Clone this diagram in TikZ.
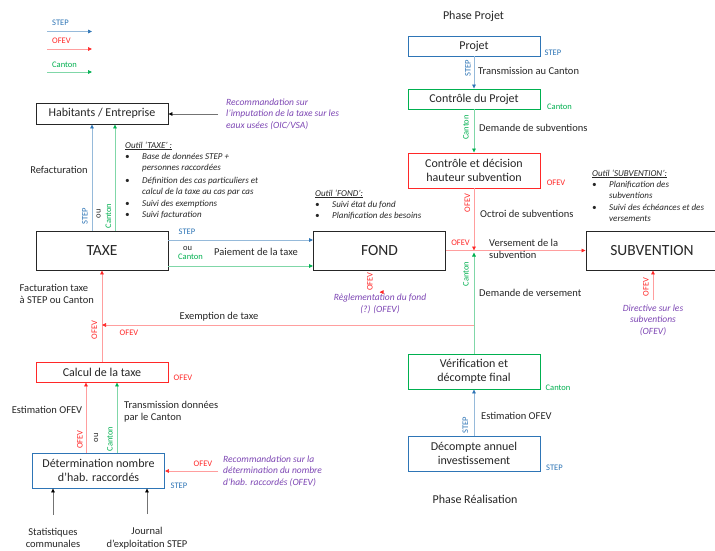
\documentclass[tikz,border=0pt]{standalone}
\usepackage{fontspec}
\setmainfont{Carlito}
\usetikzlibrary{arrows.meta, positioning, calc}

\definecolor{stepblue}{RGB}{46,117,182}
\definecolor{ofevred}{RGB}{255,40,40}
\definecolor{cantongreen}{RGB}{0,176,80}
\definecolor{recopurple}{RGB}{125,70,180}
\definecolor{textgray}{RGB}{38,38,38}

\tikzset{
  box/.style={rectangle, draw=black!85, line width=0.9pt, minimum width=132pt, inner sep=1pt, align=center, text=textgray, font=\fontsize{12}{14}\selectfont},
  box_big/.style={box, minimum height=39pt, font=\fontsize{15.5}{18}\selectfont},
  box_step/.style={box, draw=stepblue},
  box_ofev/.style={box, draw=ofevred},
  box_canton/.style={box, draw=cantongreen},
  tag_step/.style={text=stepblue, inner sep=0pt, font=\fontsize{8.5}{10}\selectfont},
  tag_ofev/.style={text=ofevred, inner sep=0pt, font=\fontsize{8.5}{10}\selectfont},
  tag_canton/.style={text=cantongreen, inner sep=0pt, font=\fontsize{8.5}{10}\selectfont},
  tag_ou/.style={text=textgray, inner sep=0pt, font=\fontsize{8.5}{10}\selectfont},
  label_text/.style={text=textgray, inner sep=0pt, align=left, font=\fontsize{10.5}{12.5}\selectfont},
  phase_title/.style={text=textgray, inner sep=0pt, font=\fontsize{12}{14}\selectfont},
  reco_text/.style={text=recopurple, inner sep=0pt, font=\fontsize{9.5}{11.5}\selectfont\itshape},
  tool_list/.style={text=textgray, inner sep=0pt, font=\fontsize{9}{11}\selectfont\itshape},
  arrow_step/.style={-{Triangle[length=4pt, width=3.6pt, color=stepblue]}, draw=stepblue!50, line width=0.7pt},
  arrow_ofev/.style={-{Triangle[length=4pt, width=3.6pt, color=ofevred]}, draw=ofevred!45, line width=0.7pt},
  arrow_canton/.style={-{Triangle[length=4pt, width=3.6pt, color=cantongreen]}, draw=cantongreen!50, line width=0.7pt},
  arrow_black/.style={-{Triangle[length=4pt, width=3.6pt, color=black]}, draw=black!55, line width=0.7pt}
}

\begin{document}
\begin{tikzpicture}[x=1pt, y=-1pt]
  \useasboundingbox[fill=white] (0,0) rectangle (715,551);

  % Legend
  \foreach \tag/\kind/\ty/\ay in {STEP/step/23/31.5, OFEV/ofev/41/49, Canton/canton/65/72} {
    \node[tag_\kind, anchor=west] (legend_\kind) at (52,\ty) {\tag};
    \coordinate (legend_\kind_from) at (47,\ay);
    \coordinate (legend_\kind_to) at (92,\ay);
    \draw[arrow_\kind] (legend_\kind_from) -- (legend_\kind_to);
  }

  % Left part: taxe
  \node[box, minimum height=21pt] (habitants) at (102,113.5) {Habitants / Entreprise};
  \node[box_big] (taxe) at (102,250.5) {TAXE};
  \node[box_ofev, minimum height=20pt] (calcul) at (102,372) {Calcul de la taxe};
  \node[box_step, minimum height=35pt] (determination) at (98.5,470.5) {Détermination nombre\\d'hab. raccordés};
  \node[label_text, align=center] (stats) at (53,538) {Statistiques\\communales};
  \node[label_text, align=center] (journal) at (147,538) {Journal\\d'exploitation STEP};

  \node[reco_text, anchor=west, align=left] (reco_hab) at (226,114) {Recommandation sur\\l'imputation de la taxe sur les\\eaux usées (OIC/VSA)};
  \draw[arrow_black] ([xshift=-8pt]reco_hab.west) -- (reco_hab.west -| habitants.east);

  \node[tool_list, anchor=base west] (outil_taxe) at (125,148) {%
    \begin{tabular}[t]{@{}p{17pt}@{}l@{}}
      \multicolumn{2}{@{}l@{}}{\underline{Outil `TAXE' :}}\\
      \textbullet & Base de données STEP +\\
                  & personnes raccordées\\[2.5pt]
      \textbullet & Définition des cas particuliers et\\
                  & calcul de la taxe au cas par cas\\[1pt]
      \textbullet & Suivi des exemptions\\
      \textbullet & Suivi facturation
    \end{tabular}};

  \coordinate (refact_step) at ([xshift=-10pt]taxe.north);
  \coordinate (refact_canton) at ([xshift=13pt]taxe.north);
  \draw[arrow_step] (refact_step) -- (refact_step |- habitants.south);
  \draw[arrow_canton] (refact_canton) -- (refact_canton |- habitants.south);
  \node[label_text] (refacturation) at (59,170) {Refacturation};
  \node[tag_step, rotate=90] (tag_refact_step) at (85,216) {STEP};
  \node[tag_ou, rotate=90] (tag_refact_ou) at (98.5,214) {ou};
  \node[tag_canton, rotate=90] (tag_refact_canton) at (108.5,216) {Canton};

  \draw[arrow_ofev] (calcul.north) -- (taxe.south);
  \node[label_text, anchor=west] (facturation) at (19.5,294) {Facturation taxe\\à STEP ou Canton};
  \node[tag_ofev, rotate=90] (tag_factu) at (94.5,330) {OFEV};
  \node[tag_ofev] (tag_calcul) at (183,378) {OFEV};

  \coordinate (det_ofev) at ([xshift=-12.5pt]determination.north);
  \coordinate (det_canton) at ([xshift=18.5pt]determination.north);
  \draw[arrow_ofev] (det_ofev) -- (det_ofev |- calcul.south);
  \draw[arrow_canton] (det_canton) -- (det_canton |- calcul.south);
  \node[label_text] (estimation_det) at (47,410) {Estimation OFEV};
  \node[label_text, anchor=west] (transmission_det) at (124,411.5) {Transmission données\\par le Canton};
  \node[tag_ofev, rotate=90] (tag_det_ofev) at (80,439.5) {OFEV};
  \node[tag_ou, rotate=90] (tag_det_ou) at (96,438) {ou};
  \node[tag_canton, rotate=90] (tag_det_canton) at (110,439) {Canton};
  \node[tag_step] (tag_det) at (179,486) {STEP};

  \node[reco_text, anchor=west, align=left] (reco_det) at (223,471) {Recommandation sur la\\détermination du nombre\\d'hab. raccordés (OFEV)};
  \draw[arrow_ofev] ([xshift=-5pt]reco_det.west) -- (reco_det.west -| determination.east);
  \node[tag_ofev] (tag_reco_det) at (203,464) {OFEV};

  \coordinate (stats_top) at ([yshift=13pt]stats.north);
  \coordinate (journal_top) at ([yshift=13pt]journal.north);
  \draw[arrow_black] (stats_top) -- (stats_top |- determination.south);
  \draw[arrow_black] (journal_top) -- (journal_top |- determination.south);

  % Middle part: fond
  \node[box_big] (fond) at (379.5,250.5) {FOND};
  \node[tool_list, anchor=base west] (outil_fond) at (315,196) {%
    \begin{tabular}[t]{@{}p{17pt}@{}l@{}}
      \multicolumn{2}{@{}l@{}}{\underline{Outil `FOND':}}\\
      \textbullet & Suivi état du fond\\
      \textbullet & Planification des besoins
    \end{tabular}};

  \coordinate (pay_step) at ([yshift=10.5pt]taxe.east);
  \coordinate (pay_canton) at ([yshift=-15.5pt]taxe.east);
  \draw[arrow_step] (pay_step) -- (pay_step -| fond.west);
  \draw[arrow_canton] (pay_canton) -- (pay_canton -| fond.west);
  \node[tag_step] (tag_pay_step) at (187,232) {STEP};
  \node[tag_ou] (tag_pay_ou) at (187.5,248) {ou};
  \node[tag_canton] (tag_pay_canton) at (190.5,257) {Canton};
  \node[label_text] (paiement) at (256,252) {Paiement de la taxe};

  \node[reco_text, align=center] (reco_fond) at (380,304) {Règlementation du fond\\(?) (OFEV)};
  \coordinate (reco_fond_top) at ([yshift=2pt]reco_fond.north);
  \draw[arrow_ofev] (reco_fond_top) -- (reco_fond_top -| fond.south);
  \node[tag_ofev, rotate=90] (tag_reco_fond) at (370,281.5) {OFEV};

  % Right part: subvention
  \node[phase_title] (phase_projet) at (473.5,16) {Phase Projet};
  \node[box_step, minimum height=20pt] (projet) at (474,46) {Projet};
  \node[box_canton, minimum height=20pt] (controle) at (474,99) {Contrôle du Projet};
  \node[box_ofev, minimum height=35pt] (decision) at (474,170.5) {Contrôle et décision\\hauteur subvention};
  \node[box_big] (subvention) at (652,250.5) {SUBVENTION};
  \node[box_canton, minimum height=35pt] (verification) at (474,371.5) {Vérification et\\décompte final};
  \node[box_step, minimum height=35pt] (decompte) at (474,453.5) {Décompte annuel\\investissement};
  \node[phase_title] (phase_realisation) at (475,499) {Phase Réalisation};

  \node[tag_step] (tag_projet) at (553,53) {STEP};
  \node[tag_canton] (tag_controle) at (559.5,107) {Canton};
  \node[tag_ofev] (tag_decision) at (556,183) {OFEV};
  \node[tag_canton] (tag_verification) at (558,388) {Canton};
  \node[tag_step] (tag_decompte) at (554.5,468) {STEP};

  \draw[arrow_step] (projet.south) -- (controle.north);
  \node[tag_step, rotate=90] (tag_transmission) at (468,68) {STEP};
  \node[label_text, anchor=west] (transmission) at (478,71) {Transmission au Canton};

  \draw[arrow_canton] (controle.south) -- (decision.north);
  \node[tag_canton, rotate=90] (tag_demande) at (466,127.5) {Canton};
  \node[label_text, anchor=west] (demande) at (479,128) {Demande de subventions};

  \coordinate (junction) at (decision.south |- fond.east);
  \draw[arrow_ofev] (decision.south) -- (junction);
  \node[tag_ofev, rotate=90] (tag_octroi) at (467.5,203) {OFEV};
  \node[label_text, anchor=west] (octroi) at (480,214) {Octroi de subventions};

  \draw[arrow_ofev] (fond.east) -- (subvention.west);
  \node[tag_ofev] (tag_versement) at (460.5,243) {OFEV};
  \node[label_text, anchor=west] (versement) at (489,249) {Versement de la\\subvention};

  \draw[arrow_canton] (verification.north) -- ([yshift=-2pt]junction);
  \node[tag_canton, rotate=90] (tag_dem_versement) at (466,274) {Canton};
  \node[label_text, anchor=west] (dem_versement) at (479,293) {Demande de versement};

  \coordinate (exemption_start) at (474,325);
  \draw[arrow_ofev] (exemption_start) -- (exemption_start -| taxe.south);
  \node[label_text] (exemption) at (219,317) {Exemption de taxe};
  \node[tag_ofev] (tag_exemption) at (129,333) {OFEV};

  \draw[arrow_step] (decompte.north) -- (verification.south);
  \node[tag_step, rotate=90] (tag_estimation) at (465.5,425.5) {STEP};
  \node[label_text, anchor=west] (estimation) at (481,416) {Estimation OFEV};

  \node[tool_list, anchor=base west] (outil_sub) at (592,176) {%
    \begin{tabular}[t]{@{}p{17pt}@{}l@{}}
      \multicolumn{2}{@{}l@{}}{\underline{Outil `SUBVENTION':}}\\
      \textbullet & Planification des\\
                  & subventions\\[1pt]
      \textbullet & Suivi des échéances et des\\
                  & versements
    \end{tabular}};

  \node[reco_text, align=center] (reco_sub) at (653,320) {Directive sur les\\subventions\\(OFEV)};
  \coordinate (reco_sub_top) at ([yshift=4pt]reco_sub.north);
  \draw[arrow_ofev] (reco_sub_top) -- (reco_sub_top |- subvention.south);
  \node[tag_ofev, rotate=90] (tag_reco_sub) at (646,287) {OFEV};
\end{tikzpicture}
\end{document}
